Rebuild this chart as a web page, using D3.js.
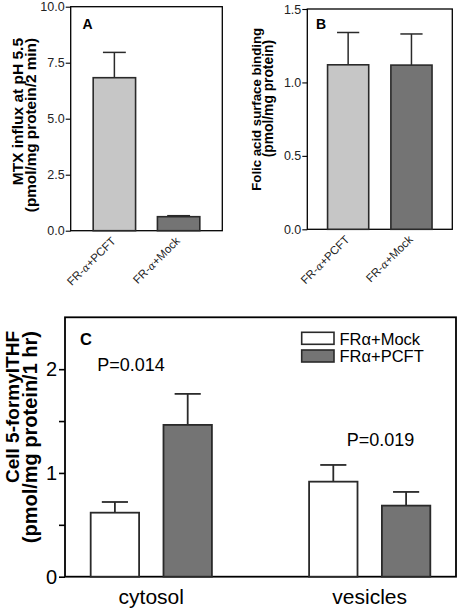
<!DOCTYPE html>
<html><head><meta charset="utf-8">
<script src="https://cdn.jsdelivr.net/npm/d3@7"></script>
<style>
body{margin:0;background:#fff;}
svg{display:block;font-family:"Liberation Sans",Arial,sans-serif;}
svg text{font-family:"Liberation Sans",Arial,sans-serif;}
</style></head>
<body><svg id="c" width="458" height="610"></svg>
<script>
// Panel A
const catsA = ["FR-α+PCFT", "FR-α+Mock"];
const valsA = [6.83, 0.625];
const errA = [7.96, 0.67];
const ticksA = [0, 2.5, 5, 7.5, 10];
// Panel B
const catsB = ["FR-α+PCFT", "FR-α+Mock"];
const valsB = [1.12, 1.118];
const errB = [1.34, 1.33];
const ticksB = [0, 0.5, 1.0, 1.5];
// Panel C
const groupsC = ["cytosol", "vesicles"];
const seriesC = ["FRα+Mock", "FRα+PCFT"];
const mockC = [0.617, 0.916];
const pcftC = [1.463, 0.685];
const mockErrC = [0.72, 1.077];
const pcftErrC = [1.762, 0.817];
const pLabels = ["P=0.014", "P=0.019"];
const pValuesY = [1.98, 1.26];
const ticksC = [0, 0.5, 1, 1.5, 2];

const FONT = "'Liberation Sans', Arial, sans-serif";
const svg = d3.select("#c");
const LIGHT = "#c6c6c6", DARK = "#747474", STROKE = "#2a2a2a";

function smallPanel(opt) {
  const {x0, x1, y0, y1, cats, vals, errs, domain, ticks, fmt, title, letter, letterPos, pi, po} = opt;
  const g = svg.append("g");
  const x = d3.scaleBand().domain(cats.map((c,i)=>i)).range([x0, x1]).paddingInner(pi).paddingOuter(po);
  const y = d3.scaleLinear().domain(domain).range([y1, y0]);
  g.append("rect").attr("x", x0).attr("y", y0).attr("width", x1 - x0).attr("height", y1 - y0)
    .attr("fill", "none").attr("stroke", "#000").attr("stroke-width", 1.3);
  const ax = g.append("g").attr("transform", `translate(${x0},0)`)
    .call(d3.axisLeft(y).tickValues(ticks).tickFormat(fmt).tickSize(5).tickPadding(1));
  ax.select(".domain").remove();
  ax.selectAll("line").attr("stroke", "#000").attr("stroke-width", 1.1);
  ax.selectAll("text").attr("font-size", 12.5).attr("fill", "#222").attr("font-family", FONT);
  const cw = x.bandwidth() * 0.54;
  vals.forEach((v, i) => {
    const cx = x(i) + x.bandwidth() / 2;
    g.append("line").attr("x1", cx).attr("x2", cx).attr("y1", y(v)).attr("y2", y(errs[i])).attr("stroke", STROKE).attr("stroke-width", 1.5);
    g.append("line").attr("x1", cx - cw/2).attr("x2", cx + cw/2).attr("y1", y(errs[i])).attr("y2", y(errs[i])).attr("stroke", STROKE).attr("stroke-width", 1.5);
  });
  g.selectAll(".bar").data(vals).enter().append("rect")
    .attr("x", (d,i)=>x(i)).attr("width", x.bandwidth())
    .attr("y", d=>y(d)).attr("height", d=>y(0)-y(d))
    .attr("fill", (d,i)=> i===0 ? LIGHT : DARK)
    .attr("stroke", STROKE).attr("stroke-width", 1.6);
  cats.forEach((c, i) => {
    const cx = x(i) + x.bandwidth() / 2 + 2;
    const parts = c.split("α");
    const t = g.append("text").attr("transform", `translate(${cx},${y1 + 11}) rotate(-45)`)
      .attr("text-anchor", "end").attr("font-size", 11.5).attr("fill", "#222").attr("font-family", FONT);
    t.append("tspan").text(parts[0]);
    t.append("tspan").text("α").attr("font-family", "'DejaVu Serif', serif").attr("font-style", "italic").attr("font-size", 10.5);
    t.append("tspan").text(parts[1]);
  });
  title.forEach(([line, bx, ey, fs]) => {
    g.append("text").attr("transform", `translate(${bx},${ey}) rotate(-90)`)
      .attr("text-anchor", "end").attr("font-size", fs).attr("font-weight", "bold").attr("fill", "#000")
      .attr("font-family", FONT).text(line);
  });
  g.append("text").attr("x", letterPos[0]).attr("y", letterPos[1]).attr("font-size", 14).attr("font-weight", "bold")
    .attr("font-family", FONT).text(letter);
}

smallPanel({x0: 70.7, x1: 222.3, y0: 6.7, y1: 230.7, cats: catsA, vals: valsA, errs: errA,
  domain: [0, 10], ticks: ticksA, fmt: d3.format(".1f"),
  title: [["MTX influx at pH 5.5", 22.5, 38, 15.5], ["(pmol/mg protein/2 min)", 36, 38, 15.3]],
  letter: "A", letterPos: [82.5, 28.5], pi: 0.34, po: 0.35});

smallPanel({x0: 307.3, x1: 452.3, y0: 9, y1: 229.3, cats: catsB, vals: valsB, errs: errB,
  domain: [0, 1.5], ticks: ticksB, fmt: d3.format(".1f"),
  title: [["Folic acid surface binding", 260.5, 28, 13.2], ["(pmol/mg protein)", 273, 40, 13.8]],
  letter: "B", letterPos: [316, 28.5], pi: 0.35, po: 0.32});

// Panel C
(function(){
  const x0 = 65, x1 = 456, y0 = 317.3, y1 = 576.7;
  const g = svg.append("g");
  const xg = d3.scaleBand().domain(groupsC).range([x0, x1]).paddingInner(0.445).paddingOuter(0.1176);
  const xs = d3.scaleBand().domain(seriesC).range([0, xg.bandwidth()]).paddingInner(0.335).paddingOuter(0);
  const y = d3.scaleLinear().domain([0, 2.5]).range([y1, y0]);
  g.append("rect").attr("x", x0).attr("y", y0).attr("width", x1 - x0).attr("height", y1 - y0)
    .attr("fill", "none").attr("stroke", "#000").attr("stroke-width", 1.8);
  const ax = g.append("g").attr("transform", `translate(${x0},0)`)
    .call(d3.axisLeft(y).tickValues(ticksC).tickFormat(d => Number.isInteger(d) ? d : "").tickSize(6).tickPadding(2));
  ax.select(".domain").remove();
  ax.selectAll("line").attr("stroke", "#000").attr("stroke-width", 1.6);
  ax.selectAll("text").attr("font-size", 20).attr("fill", "#000").attr("font-family", FONT);

  const vals = [mockC, pcftC], errs = [mockErrC, pcftErrC], fills = ["#ffffff", DARK];
  const cw = xs.bandwidth() * 0.54;
  groupsC.forEach((grp, gi) => {
    seriesC.forEach((s, si) => {
      const cx = xg(grp) + xs(s) + xs.bandwidth() / 2;
      const v = vals[si][gi], e = errs[si][gi];
      g.append("line").attr("x1", cx).attr("x2", cx).attr("y1", y(v)).attr("y2", y(e)).attr("stroke", STROKE).attr("stroke-width", 1.8);
      g.append("line").attr("x1", cx - cw/2).attr("x2", cx + cw/2).attr("y1", y(e)).attr("y2", y(e)).attr("stroke", STROKE).attr("stroke-width", 1.8);
    });
  });
  groupsC.forEach((grp, gi) => {
    seriesC.forEach((s, si) => {
      const v = vals[si][gi];
      g.append("rect").attr("x", xg(grp) + xs(s)).attr("width", xs.bandwidth())
        .attr("y", y(v)).attr("height", y(0) - y(v))
        .attr("fill", fills[si]).attr("stroke", STROKE).attr("stroke-width", 1.8);
    });
    g.append("text").attr("x", xg(grp) + xg.bandwidth() / 2).attr("y", 604)
      .attr("text-anchor", "middle").attr("font-size", 21).attr("fill", "#000").attr("font-family", FONT).text(grp);
  });
  const pX = [97.3, 346.7];
  pLabels.forEach((p, i) => {
    g.append("text").attr("x", pX[i]).attr("y", y(pValuesY[i])).attr("font-size", 18).attr("fill", "#000")
      .attr("font-family", FONT).text(p);
  });
  seriesC.forEach((s, i) => {
    const ly = 332.3 + i * 17.7;
    g.append("rect").attr("x", 301.7).attr("y", ly).attr("width", 32.3).attr("height", 12)
      .attr("fill", fills[i]).attr("stroke", STROKE).attr("stroke-width", 1.6);
    g.append("text").attr("x", 339.5).attr("y", ly + 12.2).attr("font-size", 16.5).attr("fill", "#000")
      .attr("font-family", FONT).text(s);
  });
  [["Cell 5-formylTHF", 19, 19], ["(pmol/mg protein/1 hr)", 36.5, 20]].forEach(([t, tx, fs]) => {
    g.append("text").attr("transform", `translate(${tx},331) rotate(-90)`)
      .attr("text-anchor", "end").attr("font-size", fs).attr("font-weight", "bold").attr("fill", "#000")
      .attr("font-family", FONT).text(t);
  });
  g.append("text").attr("x", 80).attr("y", 345).attr("font-size", 16.5).attr("font-weight", "bold")
    .attr("font-family", FONT).text("C");
})();
</script></body></html>
